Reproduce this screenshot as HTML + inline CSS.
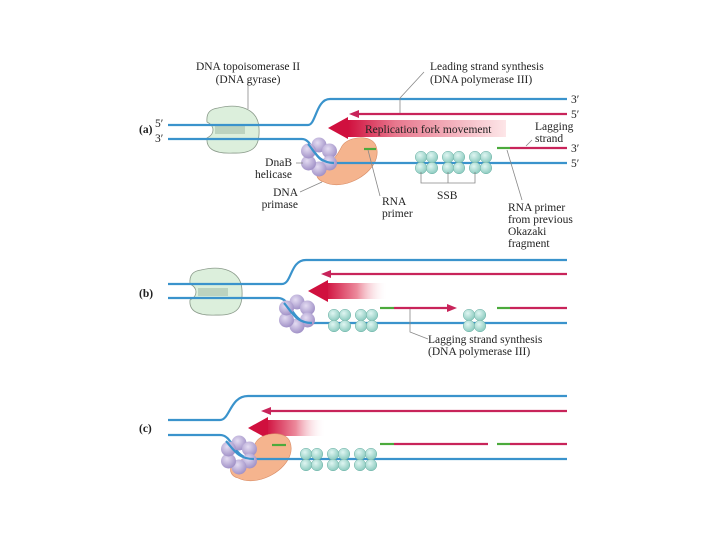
<!DOCTYPE html>
<html><head><style>
html,body{margin:0;padding:0;background:#fff;}
svg{display:block}
text{font-family:"Liberation Serif",serif;font-size:11.5px;fill:#222}
.b{stroke:#3a93cc;stroke-width:2.2;fill:none}
.r{stroke:#c8245a;stroke-width:2.2;fill:none}
.g{stroke:#4caa3c;stroke-width:2.2;fill:none}
.l{stroke:#888;stroke-width:0.8;fill:none}
</style></head><body>
<svg width="720" height="540" viewBox="0 0 720 540" xmlns="http://www.w3.org/2000/svg">
<defs>
<radialGradient id="pb" cx="0.4" cy="0.35" r="0.7"><stop offset="0" stop-color="#e4dcf2"/><stop offset="1" stop-color="#9c8cc4"/></radialGradient>
<radialGradient id="sb" cx="0.4" cy="0.35" r="0.7"><stop offset="0" stop-color="#e0f6f2"/><stop offset="1" stop-color="#86c8bc"/></radialGradient>
<linearGradient id="ar" x1="0" x2="1"><stop offset="0" stop-color="#d0103e"/><stop offset="0.3" stop-color="#e8788e"/><stop offset="1" stop-color="#fde6e8"/></linearGradient>
<linearGradient id="ar2" x1="0" x2="1"><stop offset="0" stop-color="#d0103e"/><stop offset="0.5" stop-color="#ec8a9c"/><stop offset="1" stop-color="#fff" stop-opacity="0"/></linearGradient>
<g id="hel">
<circle cx="0" cy="-12" r="7.5" fill="url(#pb)"/><circle cx="10.5" cy="-6" r="7.5" fill="url(#pb)"/>
<circle cx="10.5" cy="6" r="7.5" fill="url(#pb)"/><circle cx="0" cy="12" r="7.5" fill="url(#pb)"/>
<circle cx="-10.5" cy="6" r="7.5" fill="url(#pb)"/><circle cx="-10.5" cy="-6" r="7.5" fill="url(#pb)"/>
</g>
<g id="ssb">
<circle cx="0" cy="0" r="5.8" fill="url(#sb)" stroke="#6ab0a4" stroke-width="0.5"/><circle cx="11" cy="0" r="5.8" fill="url(#sb)" stroke="#6ab0a4" stroke-width="0.5"/>
<circle cx="0" cy="11" r="5.8" fill="url(#sb)" stroke="#6ab0a4" stroke-width="0.5"/><circle cx="11" cy="11" r="5.8" fill="url(#sb)" stroke="#6ab0a4" stroke-width="0.5"/>
</g>
<g id="topo">
<path d="M-15,-22 C5,-27 25,-22 26,-2 C27,15 22,24 0,23 C-20,24 -27,18 -26,8 C-22,6 -20,3 -20,0 C-20,-3 -22,-6 -26,-8 C-27,-18 -22,-21 -15,-22Z" fill="#dcefdc" stroke="#8a9a8a" stroke-width="0.8"/>
<rect x="-18" y="-4" width="30" height="8" fill="#b4ccb8" opacity="0.8"/>
</g>
<g id="prim">
<path d="M0,22 C-8,20 -10,12 -4,8 C8,2 12,-2 18,-14 C24,-24 48,-26 52,-14 C58,2 40,20 20,24 C10,26 4,24 0,22Z" fill="#f5b48e" stroke="#d88c66" stroke-width="0.6"/>
</g>
</defs>

<!-- ===== (a) ===== -->
<text x="139" y="133" font-weight="bold">(a)</text>
<text x="155" y="127">5′</text><text x="155" y="142">3′</text>
<use href="#topo" x="233" y="130"/>
<line class="l" x1="248" y1="80" x2="248" y2="109"/>
<text x="248" y="70" text-anchor="middle">DNA topoisomerase II</text>
<text x="248" y="83" text-anchor="middle">(DNA gyrase)</text>
<path class="b" d="M168,125 H308 C316,125 316,99 330,99 H567"/>
<text x="571" y="103">3′</text>
<line class="r" x1="358" y1="114" x2="567" y2="114"/>
<path d="M349,114 l10,-4 v8z" fill="#c8245a"/>
<text x="571" y="118">5′</text>
<rect x="348" y="120" width="158" height="17" fill="url(#ar)"/>
<path d="M328,128 L348,117 V139Z" fill="#d0103e"/>
<text x="365" y="133">Replication fork movement</text>
<use href="#prim" x="324" y="160"/>
<line class="g" x1="364" y1="149" x2="376" y2="149"/>
<path class="b" d="M168,139 H302 C314,139 312,163 332,163 H567"/>
<use href="#hel" x="319" y="157"/>
<path class="b" d="M308,144 C314,150 318,163 334,163"/>
<text x="571" y="167">5′</text>
<line class="g" x1="497" y1="148" x2="510" y2="148"/>
<line class="r" x1="510" y1="148" x2="567" y2="148"/>
<text x="571" y="152">3′</text>
<use href="#ssb" x="421" y="157"/><use href="#ssb" x="448" y="157"/><use href="#ssb" x="475" y="157"/>
<path class="l" d="M421,172 v11 h54 v-11 M448,172 v11"/>
<text x="437" y="199">SSB</text>
<line class="l" x1="400" y1="113" x2="400" y2="98"/><line class="l" x1="400" y1="98" x2="424" y2="72"/>
<text x="430" y="70">Leading strand synthesis</text>
<text x="430" y="83">(DNA polymerase III)</text>
<text x="535" y="130">Lagging</text><text x="535" y="142">strand</text>
<line class="l" x1="532" y1="140" x2="526" y2="146"/>
<line class="l" x1="507" y1="150" x2="522" y2="200"/>
<text x="508" y="211">RNA primer</text><text x="508" y="223">from previous</text>
<text x="508" y="235">Okazaki</text><text x="508" y="247">fragment</text>
<line class="l" x1="296" y1="163" x2="303" y2="163"/>
<text x="292" y="166" text-anchor="end">DnaB</text><text x="292" y="178" text-anchor="end">helicase</text>
<line class="l" x1="300" y1="192" x2="322" y2="182"/>
<text x="298" y="196" text-anchor="end">DNA</text><text x="298" y="208" text-anchor="end">primase</text>
<line class="l" x1="368" y1="150" x2="380" y2="196"/>
<text x="382" y="205">RNA</text><text x="382" y="217">primer</text>

<!-- ===== (b) ===== -->
<text x="139" y="297" font-weight="bold">(b)</text>
<use href="#topo" x="216" y="292"/>
<path class="b" d="M168,284 H282 C292,284 290,260 306,260 H567"/>
<line class="r" x1="330" y1="274" x2="567" y2="274"/>
<path d="M321,274 l10,-4 v8z" fill="#c8245a"/>
<rect x="326" y="283" width="62" height="16" fill="url(#ar2)"/>
<path d="M308,291 L328,280 V302Z" fill="#d0103e"/>
<path class="b" d="M168,298 H278 C292,298 290,323 312,323 H567"/>
<use href="#hel" x="297" y="314"/>
<path class="b" d="M284,303 C292,312 296,323 312,323"/>
<use href="#ssb" x="334" y="315"/><use href="#ssb" x="361" y="315"/><use href="#ssb" x="469" y="315"/>
<line class="g" x1="380" y1="308" x2="394" y2="308"/>
<line class="r" x1="394" y1="308" x2="448" y2="308"/>
<path d="M457,308 l-10,-4 v8z" fill="#c8245a"/>
<line class="g" x1="497" y1="308" x2="510" y2="308"/>
<line class="r" x1="510" y1="308" x2="567" y2="308"/>
<path class="l" d="M410,309 V332 L428,339"/>
<text x="428" y="343">Lagging strand synthesis</text>
<text x="428" y="355">(DNA polymerase III)</text>

<!-- ===== (c) ===== -->
<text x="139" y="432" font-weight="bold">(c)</text>
<path class="b" d="M168,420 H220 C230,420 230,396 248,396 H567"/>
<line class="r" x1="270" y1="411" x2="567" y2="411"/>
<path d="M261,411 l10,-4 v8z" fill="#c8245a"/>
<rect x="266" y="420" width="60" height="16" fill="url(#ar2)"/>
<path d="M248,428 L268,417 V439Z" fill="#d0103e"/>
<use href="#prim" x="238" y="456"/>
<line class="g" x1="272" y1="445" x2="286" y2="445"/>
<path class="b" d="M168,435 H220 C234,435 232,459 254,459 H567"/>
<use href="#hel" x="239" y="455"/>
<path class="b" d="M226,441 C234,450 238,459 254,459"/>
<use href="#ssb" x="306" y="454"/><use href="#ssb" x="333" y="454"/><use href="#ssb" x="360" y="454"/>
<line class="g" x1="380" y1="444" x2="394" y2="444"/>
<line class="r" x1="394" y1="444" x2="488" y2="444"/>
<line class="g" x1="497" y1="444" x2="510" y2="444"/>
<line class="r" x1="510" y1="444" x2="567" y2="444"/>
</svg>
</body></html>
